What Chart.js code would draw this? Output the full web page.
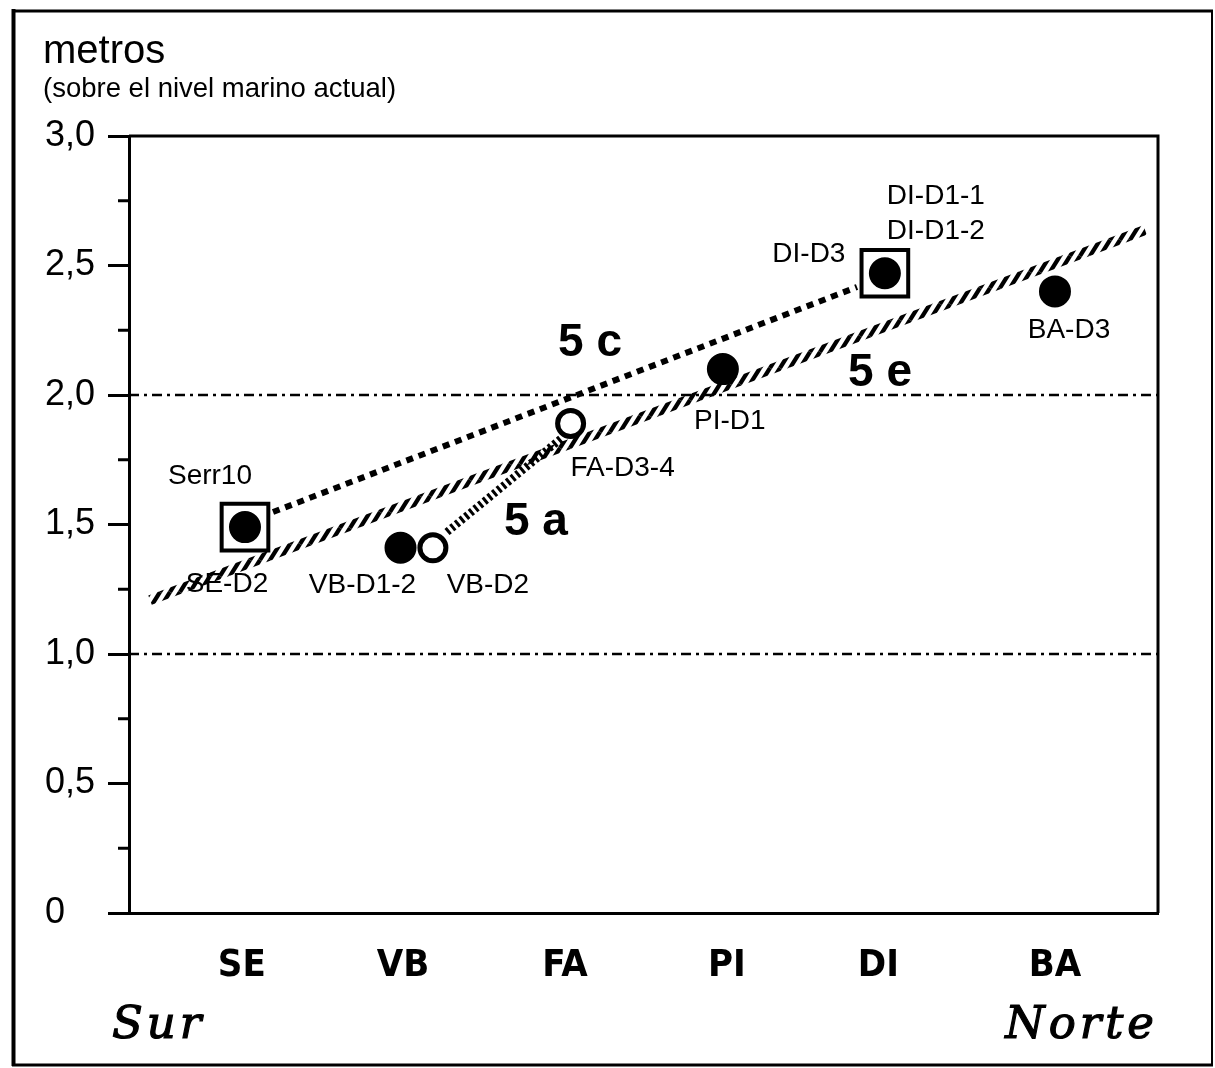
<!DOCTYPE html>
<html>
<head>
<meta charset="utf-8">
<script src="https://cdn.jsdelivr.net/npm/chart.js@4.4.1/dist/chart.umd.min.js"></script>
<style>
  body { margin: 0; background: #fff; }
  canvas { display: block; }
</style>
</head>
<body>
<canvas id="chart" width="1215" height="1068"></canvas>
<script>
// estaciones de sur a norte y su posicion en el eje x
const estaciones = ["SE", "VB", "FA", "PI", "DI", "BA"];
const posEstaciones = [0.98, 1.975, 2.975, 3.975, 4.91, 6.0];
const xMin = 0.284, xMax = 6.636;

// eje y en metros sobre el nivel marino actual
const yTicks = [0, 0.5, 1, 1.5, 2, 2.5, 3];
const yMenores = [0.25, 0.75, 1.25, 1.75, 2.25, 2.75];
const nivelesRef = [1.0, 2.0];

// depositos medidos
const puntosX = [1.0, 1.96, 2.16, 3.01, 3.95, 4.95, 6.0];
const puntosY = [1.49, 1.41, 1.41, 1.89, 2.10, 2.47, 2.40];
const abiertos = [false, false, true, true, false, false, false];
const recuadro = [true, false, false, false, false, true, false];
const etiquetas = [
  ["Serr10", "SE-D2"], ["VB-D1-2"], ["VB-D2"], ["FA-D3-4"],
  ["PI-D1"], ["DI-D3", "DI-D1-1", "DI-D1-2"], ["BA-D3"]
];

// lineas de los estadios 5e, 5c y 5a
const linea5eX = [0.414, 6.556], linea5eY = [1.208, 2.637];
const linea5cX = [1.173, 4.778], linea5cY = [1.548, 2.417];
const linea5aX = [2.247, 2.963], linea5aY = [1.471, 1.838];
const estadios = ["5 c", "5 a", "5 e"];
const estadiosX = [3.13, 2.796, 4.92];
const estadiosY = [2.20, 1.51, 2.085];

// desplazamiento (px) de cada etiqueta respecto a su punto
const desplaz = [
  [[-35, -51], [-18, 57]], [[-38, 37]], [[55, 37]], [[52, 45]],
  [[7, 52]], [[-76, -19], [51, -77], [51, -42]], [[14, 39]]
];

const sans = '"Liberation Sans", Arial, sans-serif';

function puntos(xs, ys) {
  return xs.map((x, i) => ({ x: x, y: ys[i] }));
}

// trazo rayado de la linea 5e
function rayado(ctx) {
  const c = document.createElement('canvas');
  c.width = 10; c.height = 16;
  const g = c.getContext('2d');
  g.strokeStyle = '#000';
  g.lineWidth = 4.2;
  for (const [ox, oy] of [[0, 0], [-10, 0], [10, 0], [0, -16], [0, 16]]) {
    g.beginPath();
    g.moveTo(ox, oy + 16);
    g.lineTo(ox + 10, oy);
    g.stroke();
  }
  return ctx.createPattern(c, 'repeat');
}

const ctx = document.getElementById('chart');
const g2d = ctx.getContext('2d');

const idx = puntosX.map((_, i) => i);
const llenos = idx.filter(i => !abiertos[i]);
const huecos = idx.filter(i => abiertos[i]);
const cajas = idx.filter(i => recuadro[i]);

const marco = {
  id: 'marco',
  beforeDraw(chart) {
    const c = chart.ctx;
    c.save();
    c.fillStyle = '#fff';
    c.fillRect(0, 0, chart.width, chart.height);
    c.strokeStyle = '#000';
    c.lineWidth = 4; c.beginPath(); c.moveTo(13.5, 9); c.lineTo(13.5, 1066); c.stroke();
    c.lineWidth = 3; c.beginPath(); c.moveTo(12, 11); c.lineTo(1213, 11); c.stroke();
    c.lineWidth = 2; c.beginPath(); c.moveTo(1212, 10); c.lineTo(1212, 1066); c.stroke();
    c.lineWidth = 3; c.beginPath(); c.moveTo(12, 1065); c.lineTo(1213, 1065); c.stroke();

    c.fillStyle = '#000';
    c.textBaseline = 'alphabetic';
    c.textAlign = 'left';
    c.font = '40px ' + sans;
    c.fillText('metros', 43, 63);
    c.font = '27.5px ' + sans;
    c.fillText('(sobre el nivel marino actual)', 43, 97);

    // Sur / Norte en cursiva, un poco engrosada
    c.font = 'italic 45px "DejaVu Serif", serif';
    c.letterSpacing = '4px';
    c.lineWidth = 1.2;
    c.fillText('Sur', 112, 1038);
    c.strokeText('Sur', 112, 1038);
    c.textAlign = 'right';
    c.fillText('Norte', 1158, 1038);
    c.strokeText('Norte', 1158, 1038);
    c.restore();
  },
  afterDraw(chart) {
    const c = chart.ctx, a = chart.chartArea, ys = chart.scales.y;
    c.save();
    c.strokeStyle = '#000';
    c.lineWidth = 3;
    c.beginPath();
    c.moveTo(a.left, a.top); c.lineTo(a.right, a.top); c.lineTo(a.right, a.bottom);
    c.stroke();
    // marcas menores del eje y
    yMenores.forEach(v => {
      const y = ys.getPixelForValue(v);
      c.beginPath(); c.moveTo(a.left - 11, y); c.lineTo(a.left, y); c.stroke();
    });
    c.restore();
  },
  afterDatasetsDraw(chart) {
    const c = chart.ctx, xs = chart.scales.x, ys = chart.scales.y;
    c.save();
    c.fillStyle = '#000';
    c.textAlign = 'center';
    c.textBaseline = 'middle';
    c.font = '28px ' + sans;
    etiquetas.forEach((lista, i) => {
      const px = xs.getPixelForValue(puntosX[i]);
      const py = ys.getPixelForValue(puntosY[i]);
      lista.forEach((t, j) => c.fillText(t, px + desplaz[i][j][0], py + desplaz[i][j][1]));
    });
    c.font = 'bold 46px ' + sans;
    estadios.forEach((t, i) => {
      c.fillText(t, xs.getPixelForValue(estadiosX[i]), ys.getPixelForValue(estadiosY[i]));
    });
    c.restore();
  }
};

new Chart(ctx, {
  type: 'scatter',
  data: {
    datasets: [
      {
        data: llenos.map(i => ({ x: puntosX[i], y: puntosY[i] })),
        pointStyle: 'circle', pointRadius: 15, borderWidth: 2,
        backgroundColor: '#000', borderColor: '#000'
      },
      {
        data: huecos.map(i => ({ x: puntosX[i], y: puntosY[i] })),
        pointStyle: 'circle', pointRadius: 13, borderWidth: 5,
        backgroundColor: '#fff', borderColor: '#000'
      },
      {
        data: cajas.map(i => ({ x: puntosX[i], y: puntosY[i] })),
        pointStyle: 'rect', pointRadius: 33, borderWidth: 4,
        backgroundColor: '#fff', borderColor: '#000'
      },
      {
        data: puntos(linea5cX, linea5cY), showLine: true, pointRadius: 0,
        borderColor: '#000', borderWidth: 6, borderDash: [7, 6]
      },
      {
        data: puntos(linea5aX, linea5aY), showLine: true, pointRadius: 0,
        borderColor: '#000', borderWidth: 8, borderDash: [3, 3]
      },
      {
        data: puntos(linea5eX, linea5eY), showLine: true, pointRadius: 0,
        borderColor: rayado(g2d), borderWidth: 10
      },
      ...nivelesRef.map(v => ({
        data: [{ x: xMin, y: v }, { x: xMax, y: v }], showLine: true, pointRadius: 0,
        borderColor: '#000', borderWidth: 2.5, borderDash: [10, 5, 3, 5]
      }))
    ]
  },
  options: {
    responsive: false,
    devicePixelRatio: 1,
    animation: false,
    events: [],
    layout: { padding: { left: 45, top: 136, right: 57, bottom: 55 } },
    plugins: { legend: { display: false }, tooltip: { enabled: false } },
    scales: {
      x: {
        type: 'linear', min: xMin, max: xMax,
        afterBuildTicks(s) { s.ticks = posEstaciones.map(v => ({ value: v })); },
        afterFit(s) { s.height = 100; },
        ticks: {
          callback: (v, i) => estaciones[i],
          color: '#000', padding: 30,
          font: { family: '"Liberation Sans Narrow", "DejaVu Sans Condensed", sans-serif', size: 38, weight: 'bold' },
          maxRotation: 0, autoSkip: false
        },
        grid: { display: false, drawTicks: false },
        border: { display: true, color: '#000', width: 3 }
      },
      y: {
        min: 0, max: 3,
        afterBuildTicks(s) { s.ticks = yTicks.map(v => ({ value: v })); },
        afterFit(s) { s.width = 84; },
        ticks: {
          callback: v => v === 0 ? '0' : v.toFixed(1).replace('.', ','),
          color: '#000', padding: 8, crossAlign: 'far',
          font: { family: sans, size: 36 }
        },
        grid: { drawOnChartArea: false, drawTicks: true, tickLength: 21, tickWidth: 3, tickColor: '#000' },
        border: { display: true, color: '#000', width: 3 }
      }
    }
  },
  plugins: [marco]
});
</script>
</body>
</html>
